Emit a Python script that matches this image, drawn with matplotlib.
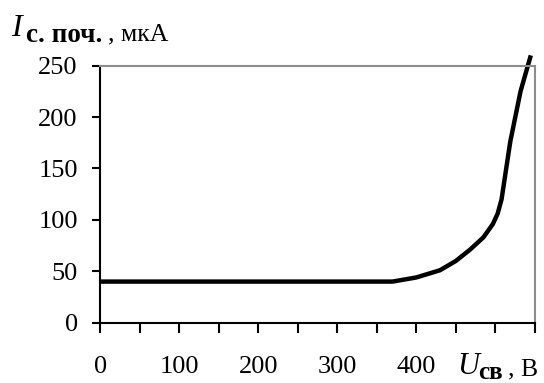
import matplotlib.pyplot as plt
import numpy as np

plt.rcParams['font.family'] = ['Liberation Serif', 'DejaVu Serif']

# data
u_sv = [0, 100, 200, 300, 370, 400, 430, 450, 468, 485, 497, 503, 508, 519, 532, 545]
i_poch = [40, 40, 40, 40, 40, 44, 51, 60, 71, 83, 96, 106, 120, 176, 225, 260]
x_ticks = list(range(0, 551, 50))
x_labels = ['0', '', '100', '', '200', '', '300', '', '400', '', '', '']
y_ticks = [0, 50, 100, 150, 200, 250]

W, H = 544, 383
fig = plt.figure(figsize=(W / 100, H / 100), dpi=100)
ax = fig.add_axes([0.184, 0.1574, 0.799, 0.6711])

ax.plot(u_sv, i_poch, color='black', linewidth=3.2, clip_on=False,
        solid_capstyle='butt', solid_joinstyle='round')

ax.set_xlim(0, 550)
ax.set_ylim(0, 250)
ax.set_xticks(x_ticks)
ax.set_xticklabels(x_labels)
ax.set_yticks(y_ticks)

ax.tick_params(axis='x', direction='out', length=7, width=1.5, pad=17,
               labelsize=19, colors='black')
ax.tick_params(axis='y', direction='out', length=6, width=1.5, pad=10,
               labelsize=19, colors='black')

for s in ['left', 'bottom']:
    ax.spines[s].set_linewidth(1.5)
    ax.spines[s].set_color('black')
for s in ['top', 'right']:
    ax.spines[s].set_linewidth(1.5)
    ax.spines[s].set_color('#8c8c8c')


def px_text(x, y, s, **kw):
    fig.text(x / W, 1 - y / H, s, va='baseline', ha='left', **kw)


# y axis title: I с. поч., мкА
px_text(11, 36, 'I', fontsize=23, style='italic')
px_text(26, 42, 'с. поч.', fontsize=19.5, weight='bold')
px_text(108, 40, ', мкА', fontsize=18.5)

# x axis title: U св, В
px_text(457, 374, 'U', fontsize=22, style='italic')
px_text(478, 379, 'св', fontsize=18, weight='bold')
px_text(508, 375, ', В', fontsize=18.5)

fig.savefig('out.png', dpi=100)
